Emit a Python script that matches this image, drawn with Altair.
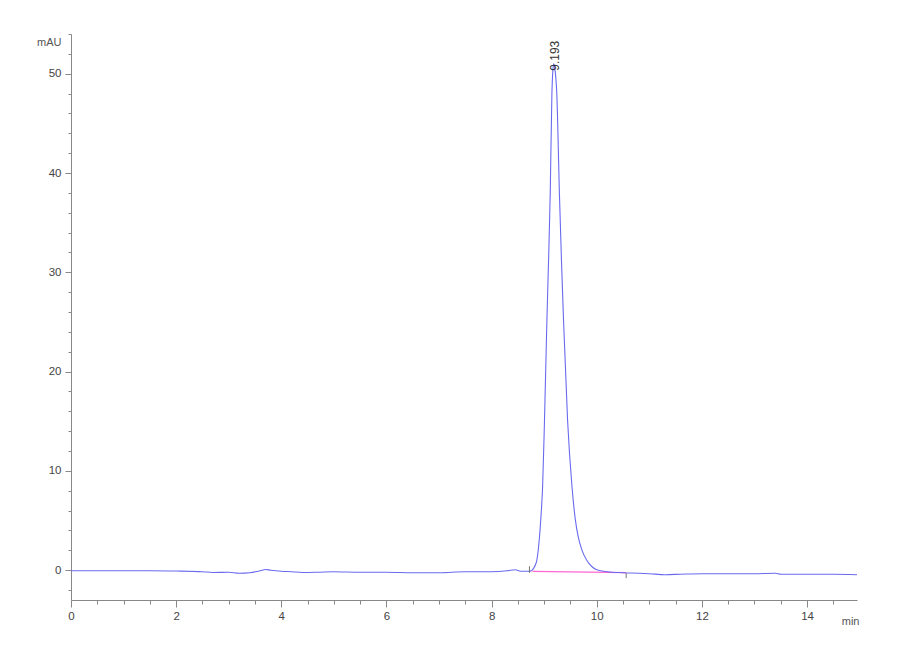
import altair as alt
import pandas as pd

# Chromatogram trace (time in min, absorbance in mAU)
time_min = [0.0, 0.5, 1.0, 1.5, 2.0, 2.5, 2.7, 3.0, 3.2, 3.4, 3.6, 3.7, 3.8, 4.0, 4.2, 4.4,
            4.7, 5.0, 5.5, 6.0, 6.5, 7.0, 7.5, 8.0, 8.3, 8.45, 8.55, 8.7, 8.76,
            8.80, 8.83, 8.86, 8.91, 8.94, 8.97, 9.006, 9.052, 9.085, 9.115, 9.147, 9.165,
            9.18, 9.20, 9.24, 9.29, 9.33, 9.368, 9.445, 9.53, 9.59, 9.65, 9.72, 9.81,
            9.90, 10.0, 10.2, 10.5, 10.8, 11.0, 11.3, 11.6, 12.0, 12.5, 13.0, 13.4,
            13.5, 14.0, 14.5, 14.95]
signal_mau = [-0.05, -0.05, -0.05, -0.05, -0.08, -0.15, -0.23, -0.2, -0.3, -0.25, -0.05, 0.07, 0.0, -0.1, -0.15, -0.23,
              -0.2, -0.15, -0.2, -0.2, -0.25, -0.25, -0.15, -0.15, -0.05, 0.05, -0.1, -0.1, -0.05,
              0.2, 0.5, 1.0, 3.3, 5.5, 8.35, 15.1, 25.2, 31.5, 37.9, 48.0, 50.3,
              51.0, 50.6, 48.0, 37.9, 31.0, 25.2, 15.1, 8.35, 5.2, 3.3, 2.0, 1.0,
              0.4, 0.05, -0.15, -0.25, -0.3, -0.35, -0.45, -0.4, -0.35, -0.35, -0.35, -0.3,
              -0.4, -0.4, -0.4, -0.45]

# Integration baseline (pink)
base_time = [8.78, 10.56]
base_mau = [-0.12, -0.25]

# Peak start / end markers
marker_time = [8.72, 10.56]
marker_lo = [-0.27, -0.8]
marker_hi = [0.4, -0.3]

# Peak label
peak_time = [9.193]
peak_mau = [50.3]
peak_label = ["9.193"]

x_ticks = [0, 0.5, 1, 1.5, 2, 2.5, 3, 3.5, 4, 4.5, 5, 5.5, 6, 6.5, 7, 7.5, 8, 8.5,
           9, 9.5, 10, 10.5, 11, 11.5, 12, 12.5, 13, 13.5, 14, 14.5]
y_ticks = [-2, 0, 2, 4, 6, 8, 10, 12, 14, 16, 18, 20, 22, 24, 26, 28, 30, 32, 34,
           36, 38, 40, 42, 44, 46, 48, 50, 52, 54]

sig = pd.DataFrame({"t": time_min, "v": signal_mau})
base = pd.DataFrame({"t": base_time, "v": base_mau})
marks = pd.DataFrame({"t": marker_time, "lo": marker_lo, "hi": marker_hi})
lab = pd.DataFrame({"t": peak_time, "v": peak_mau, "label": peak_label})

FONT = "Liberation Sans"
xscale = alt.Scale(domain=[0, 14.95], nice=False, zero=False)
yscale = alt.Scale(domain=[-3, 54], nice=False, zero=False)

xaxis = alt.Axis(
    values=x_ticks, tickCount=200,
    labelExpr="datum.value % 2 === 0 ? format(datum.value, 'd') : ''",
    tickSize={"condition": {"test": "datum.value % 2 === 0", "value": 7}, "value": 4},
    title="min", titleAlign="right", titleAnchor="end", titleX=788, titleY=21,
    titleBaseline="middle", titleFontWeight="normal", titleFontSize=11,
    titleColor="#555", labelPadding=3, labelFlush=False, labelOverlap=False, grid=False,
)
yaxis = alt.Axis(
    values=y_ticks, tickCount=200,
    labelExpr="datum.value % 10 === 0 ? format(datum.value, 'd') : ''",
    tickSize={"condition": {"test": "datum.value % 10 === 0", "value": 6}, "value": 3},
    title="mAU", titleAngle=0, titleAlign="right", titleX=-10, titleY=8,
    titleBaseline="middle", titleFontWeight="normal", titleFontSize=11,
    titleColor="#555", labelPadding=4, labelOverlap=False, grid=False,
)

line = alt.Chart(sig).mark_line(color="#6a6af0", strokeWidth=1.1, interpolate="monotone").encode(
    x=alt.X("t:Q", scale=xscale, axis=xaxis),
    y=alt.Y("v:Q", scale=yscale, axis=yaxis),
)
baseline = alt.Chart(base).mark_line(color="#ff66d0", strokeWidth=1.3).encode(
    x=alt.X("t:Q", scale=xscale), y=alt.Y("v:Q", scale=yscale)
)
ticks = alt.Chart(marks).mark_rule(color="#777", strokeWidth=1).encode(
    x=alt.X("t:Q", scale=xscale), y=alt.Y("lo:Q", scale=yscale), y2="hi:Q"
)
text = alt.Chart(lab).mark_text(angle=270, align="left", baseline="middle", fontSize=12,
                                font=FONT, color="#333", dx=0, dy=1).encode(
    x=alt.X("t:Q", scale=xscale), y=alt.Y("v:Q", scale=yscale), text="label:N"
)

chart = alt.layer(baseline, line, ticks, text).properties(
    width=786, height=566,
    autosize=alt.AutoSizeParams(type="none"),
    padding={"left": 63, "top": 26, "right": 35, "bottom": 52},
).configure_view(stroke=None).configure_axis(
    domainColor="#888", tickColor="#888", labelColor="#444", labelFont=FONT,
    titleFont=FONT, labelFontSize=11.5,
)

chart.save("out.html", embed_options={"renderer": "svg", "actions": False})
